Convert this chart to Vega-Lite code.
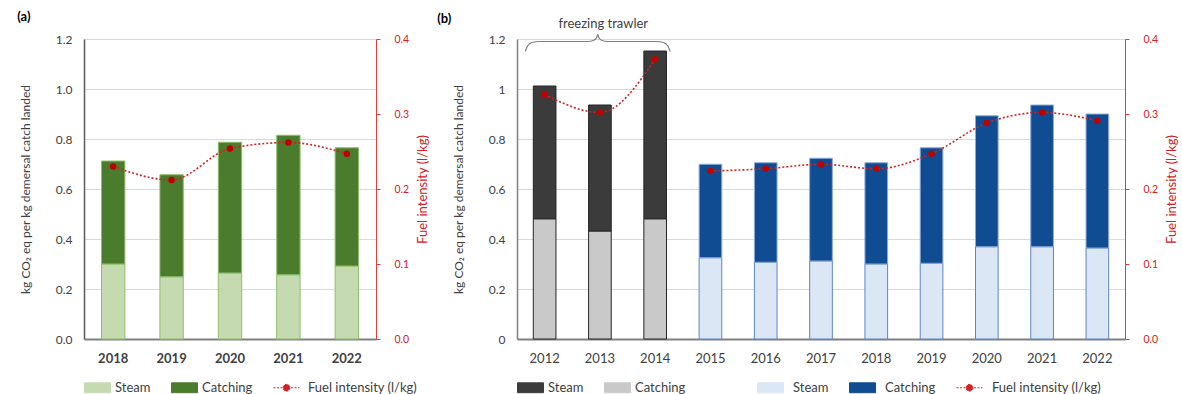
{
  "$schema": "https://vega.github.io/schema/vega-lite/v6.json",
  "background": "white",
  "padding": {"left": 17, "top": 11, "right": 0, "bottom": 0},
  "bounds": "flush",
  "spacing": 141,
  "resolve": {
    "scale": {"color": "independent", "stroke": "independent"},
    "legend": {"color": "independent"}
  },
  "config": {
    "font": "Lato",
    "view": {"stroke": null},
    "axis": {
      "labelFont": "Lato",
      "titleFont": "Lato",
      "labelColor": "#404040",
      "titleColor": "#404040",
      "titleFontWeight": "normal",
      "gridColor": "#d9d9d9",
      "ticks": false,
      "labelFontSize": 12,
      "titleFontSize": 12
    },
    "legend": {
      "labelFont": "Lato",
      "labelFontSize": 13,
      "labelColor": "#404040",
      "orient": "bottom",
      "direction": "horizontal",
      "symbolSize": 676,
      "labelOffset": 4,
      "columnPadding": 18,
      "offset": 9
    },
    "title": {"fontSize": 13, "fontWeight": "bold", "anchor": "start", "color": "#000000", "font": "Lato"}
  },
  "datasets": {
    "emissionsA": [
      {"year": "2018", "series": "Steam", "value": 0.300},
      {"year": "2018", "series": "Catching", "value": 0.412},
      {"year": "2019", "series": "Steam", "value": 0.249},
      {"year": "2019", "series": "Catching", "value": 0.408},
      {"year": "2020", "series": "Steam", "value": 0.264},
      {"year": "2020", "series": "Catching", "value": 0.523},
      {"year": "2021", "series": "Steam", "value": 0.257},
      {"year": "2021", "series": "Catching", "value": 0.558},
      {"year": "2022", "series": "Steam", "value": 0.292},
      {"year": "2022", "series": "Catching", "value": 0.473}
    ],
    "fuelA": [
      {"year": "2018", "fuel": 0.230},
      {"year": "2019", "fuel": 0.212},
      {"year": "2020", "fuel": 0.254},
      {"year": "2021", "fuel": 0.262},
      {"year": "2022", "fuel": 0.247}
    ],
    "emissionsB": [
      {"year": "2012", "series": "Catching (freezing trawler)", "value": 0.481},
      {"year": "2012", "series": "Steam (freezing trawler)", "value": 0.531},
      {"year": "2013", "series": "Catching (freezing trawler)", "value": 0.432},
      {"year": "2013", "series": "Steam (freezing trawler)", "value": 0.504},
      {"year": "2014", "series": "Catching (freezing trawler)", "value": 0.481},
      {"year": "2014", "series": "Steam (freezing trawler)", "value": 0.671},
      {"year": "2015", "series": "Steam", "value": 0.325},
      {"year": "2015", "series": "Catching", "value": 0.374},
      {"year": "2016", "series": "Steam", "value": 0.307},
      {"year": "2016", "series": "Catching", "value": 0.398},
      {"year": "2017", "series": "Steam", "value": 0.312},
      {"year": "2017", "series": "Catching", "value": 0.411},
      {"year": "2018", "series": "Steam", "value": 0.300},
      {"year": "2018", "series": "Catching", "value": 0.405},
      {"year": "2019", "series": "Steam", "value": 0.303},
      {"year": "2019", "series": "Catching", "value": 0.462},
      {"year": "2020", "series": "Steam", "value": 0.369},
      {"year": "2020", "series": "Catching", "value": 0.524},
      {"year": "2021", "series": "Steam", "value": 0.369},
      {"year": "2021", "series": "Catching", "value": 0.567},
      {"year": "2022", "series": "Steam", "value": 0.364},
      {"year": "2022", "series": "Catching", "value": 0.536}
    ],
    "fuelB": [
      {"year": "2012", "fleet": "freezer", "fuel": 0.326},
      {"year": "2013", "fleet": "freezer", "fuel": 0.302},
      {"year": "2014", "fleet": "freezer", "fuel": 0.373},
      {"year": "2015", "fleet": "fresh", "fuel": 0.224},
      {"year": "2016", "fleet": "fresh", "fuel": 0.227},
      {"year": "2017", "fleet": "fresh", "fuel": 0.233},
      {"year": "2018", "fleet": "fresh", "fuel": 0.227},
      {"year": "2019", "fleet": "fresh", "fuel": 0.247},
      {"year": "2020", "fleet": "fresh", "fuel": 0.288},
      {"year": "2021", "fleet": "fresh", "fuel": 0.302},
      {"year": "2022", "fleet": "fresh", "fuel": 0.291}
    ],
    "brace": [
      {"bx": 0.15, "by": 1.150},
      {"bx": 0.19, "by": 1.172},
      {"bx": 0.27, "by": 1.186},
      {"bx": 0.40, "by": 1.190},
      {"bx": 1.28, "by": 1.190},
      {"bx": 1.39, "by": 1.195},
      {"bx": 1.44, "by": 1.206},
      {"bx": 1.46, "by": 1.218},
      {"bx": 1.48, "by": 1.206},
      {"bx": 1.53, "by": 1.195},
      {"bx": 1.64, "by": 1.190},
      {"bx": 2.52, "by": 1.190},
      {"bx": 2.65, "by": 1.186},
      {"bx": 2.73, "by": 1.172},
      {"bx": 2.77, "by": 1.150}
    ]
  },
  "hconcat": [
    {
      "title": {"text": "(a)", "dx": -2, "offset": 9},
      "width": 292,
      "height": 300,
      "resolve": {"scale": {"y": "independent"}},
      "layer": [
        {
          "data": {"name": "emissionsA"},
          "transform": [{"calculate": "datum.series === 'Steam' ? 0 : 1", "as": "stackRank"}],
          "mark": {"type": "bar", "strokeWidth": 1},
          "encoding": {
            "x": {
              "field": "year", "type": "ordinal",
              "scale": {"paddingInner": 0.6, "paddingOuter": 0.3},
              "axis": {"title": null, "labelAngle": 0, "domainColor": "#808080", "domainWidth": 2, "labelFontSize": 13, "labelFontWeight": "bold", "labelPadding": 13}
            },
            "y": {
              "field": "value", "type": "quantitative", "stack": "zero",
              "scale": {"domain": [0, 1.2], "nice": false},
              "axis": {"title": "kg CO₂ eq per kg demersal catch landed", "values": [0, 0.2, 0.4, 0.6, 0.8, 1, 1.2], "format": ".1f", "domainColor": "#595959", "domainWidth": 1.5, "grid": true, "labelPadding": 12, "titlePadding": 23}
            },
            "color": {
              "field": "series", "type": "nominal",
              "scale": {"domain": ["Steam", "Catching", "Fuel intensity (l/kg)"], "range": ["#c5dab1", "#4b7b2c", "#d42222"]},
              "legend": {
                "title": null,
                "encode": {
                  "symbols": {
                    "update": {
                      "shape": {"signal": "indexof(datum.value, 'Fuel') === 0 ? 'M-1,0H1M0.26,0A0.26,0.26,0,1,1,-0.26,0A0.26,0.26,0,1,1,0.26,0Z' : 'M-1,-0.38H1V0.38H-1Z'"},
                      "fill": {"signal": "indexof(datum.value, 'Fuel') === 0 ? '#c00000' : datum.value === 'Steam' ? '#c5dab1' : '#4b7b2c'"},
                      "stroke": {"signal": "indexof(datum.value, 'Fuel') === 0 ? '#e3312f' : '#8dbf6a'"},
                      "strokeDash": {"signal": "indexof(datum.value, 'Fuel') === 0 ? [2, 1.5] : []"},
                      "strokeWidth": {"value": 1},
                      "opacity": {"value": 1}
                    }
                  },
                  "labels": {
                    "update": {"dx": {"signal": "indexof(datum.value, 'Fuel') === 0 ? 4 : 0"}}
                  }
                }
              }
            },
            "stroke": {
              "field": "series", "type": "nominal",
              "scale": {"domain": ["Steam", "Catching"], "range": ["#8dbf6a", "#8dbf6a"]},
              "legend": null
            },
            "order": {"field": "stackRank"}
          }
        },
        {
          "data": {"name": "fuelA"},
          "mark": {"type": "line", "interpolate": "monotone", "strokeDash": [2, 2], "strokeWidth": 1.6},
          "encoding": {
            "x": {"field": "year", "type": "ordinal"},
            "y": {
              "field": "fuel", "type": "quantitative",
              "scale": {"domain": [0, 0.4], "nice": false},
              "axis": {"orient": "right", "title": "Fuel intensity (l/kg)", "values": [0, 0.1, 0.2, 0.3, 0.4], "format": ".1f", "grid": false, "domainColor": "#e03c3c", "ticks": true, "tickColor": "#e03c3c", "tickSize": 4, "labelColor": "#d42020", "titleColor": "#d42020", "titleAngle": 270, "titleFontSize": 13, "labelFontSize": 10.5, "labelPadding": 14, "titlePadding": 21}
            },
            "color": {
              "datum": "Fuel intensity (l/kg)", "type": "nominal",
              "legend": {
                "title": null,
                "encode": {
                  "symbols": {
                    "update": {
                      "shape": {"signal": "indexof(datum.value, 'Fuel') === 0 ? 'M-1,0H1M0.26,0A0.26,0.26,0,1,1,-0.26,0A0.26,0.26,0,1,1,0.26,0Z' : 'M-1,-0.38H1V0.38H-1Z'"},
                      "fill": {"signal": "indexof(datum.value, 'Fuel') === 0 ? '#c00000' : datum.value === 'Steam' ? '#c5dab1' : '#4b7b2c'"},
                      "stroke": {"signal": "indexof(datum.value, 'Fuel') === 0 ? '#e3312f' : '#8dbf6a'"},
                      "strokeDash": {"signal": "indexof(datum.value, 'Fuel') === 0 ? [2, 1.5] : []"},
                      "strokeWidth": {"value": 1},
                      "opacity": {"value": 1}
                    }
                  },
                  "labels": {
                    "update": {"dx": {"signal": "indexof(datum.value, 'Fuel') === 0 ? 4 : 0"}}
                  }
                }
              }
            }
          }
        },
        {
          "data": {"name": "fuelA"},
          "mark": {"type": "point", "filled": true, "color": "#c00000", "size": 42, "opacity": 1},
          "encoding": {
            "x": {"field": "year", "type": "ordinal"},
            "y": {"field": "fuel", "type": "quantitative", "scale": {"domain": [0, 0.4], "nice": false}, "axis": null}
          }
        }
      ]
    },
    {
      "title": {"text": "(b)", "dx": -15, "offset": -8},
      "width": 608,
      "height": 300,
      "resolve": {"scale": {"x": "independent", "y": "independent"}},
      "layer": [
        {
          "data": {"name": "emissionsB"},
          "transform": [{"calculate": "datum.series === 'Steam' || datum.series === 'Catching (freezing trawler)' ? 0 : 1", "as": "stackRank"}],
          "mark": {"type": "bar", "strokeWidth": 1},
          "encoding": {
            "x": {
              "field": "year", "type": "ordinal",
              "scale": {"paddingInner": 0.59, "paddingOuter": 0.295},
              "axis": {"title": null, "labelAngle": 0, "domainColor": "#808080", "domainWidth": 2, "labelFontSize": 13, "labelPadding": 13}
            },
            "y": {
              "field": "value", "type": "quantitative", "stack": "zero",
              "scale": {"domain": [0, 1.2], "nice": false},
              "axis": {"title": "kg CO₂ eq per kg demersal catch landed", "values": [0, 0.2, 0.4, 0.6, 0.8, 1, 1.2], "format": "~g", "domainColor": "#808080", "domainWidth": 1.5, "grid": true, "labelPadding": 12, "titlePadding": 23}
            },
            "color": {
              "field": "series", "type": "nominal",
              "scale": {
                "domain": ["Steam (freezing trawler)", "Catching (freezing trawler)", " ", "Steam", "Catching", "Fuel intensity (l/kg)"],
                "range": ["#3b3b3b", "#c9c9c9", "transparent", "#dbe7f5", "#0f4c91", "#d42222"]
              },
              "legend": {
                "title": null,
                "labelExpr": "datum.value === ' ' ? '\u00a0\u00a0' : replace(datum.value, ' (freezing trawler)', '')",
                "encode": {
                  "symbols": {
                    "update": {
                      "shape": {"signal": "indexof(datum.value, 'Fuel') === 0 ? 'M-1,0H1M0.26,0A0.26,0.26,0,1,1,-0.26,0A0.26,0.26,0,1,1,0.26,0Z' : 'M-1,-0.38H1V0.38H-1Z'"},
                      "fill": {"signal": "indexof(datum.value, 'Fuel') === 0 ? '#c00000' : datum.value === 'Steam (freezing trawler)' ? '#3b3b3b' : datum.value === 'Catching (freezing trawler)' ? '#c9c9c9' : datum.value === ' ' ? 'transparent' : datum.value === 'Steam' ? '#dbe7f5' : '#0f4c91'"},
                      "stroke": {"signal": "indexof(datum.value, 'Fuel') === 0 ? '#e3312f' : (datum.value === 'Steam (freezing trawler)' || datum.value === 'Catching (freezing trawler)') ? '#262626' : datum.value === ' ' ? 'transparent' : '#5b86c7'"},
                      "strokeDash": {"signal": "indexof(datum.value, 'Fuel') === 0 ? [2, 1.5] : []"},
                      "strokeWidth": {"value": 1},
                      "opacity": {"value": 1}
                    }
                  },
                  "labels": {
                    "update": {"dx": {"signal": "(datum.value === 'Steam' || datum.value === 'Catching' || indexof(datum.value, 'Fuel') === 0) ? 5 : 0"}}
                  }
                }
              }
            },
            "stroke": {
              "field": "series", "type": "nominal",
              "scale": {"domain": ["Steam (freezing trawler)", "Catching (freezing trawler)", "Steam", "Catching"], "range": ["#262626", "#262626", "#5b86c7", "#8eaadb"]},
              "legend": null
            },
            "order": {"field": "stackRank"}
          }
        },
        {
          "data": {"name": "brace"},
          "mark": {"type": "line", "interpolate": "monotone", "stroke": "#7f7f7f", "strokeWidth": 1.2},
          "encoding": {
            "x": {"field": "bx", "type": "quantitative", "scale": {"domain": [0, 11], "nice": false}, "axis": null},
            "y": {"field": "by", "type": "quantitative", "scale": {"domain": [0, 1.2], "nice": false}, "axis": null}
          }
        },
        {
          "data": {"values": [{}]},
          "mark": {"type": "text", "fontSize": 13, "color": "#404040", "font": "Lato", "baseline": "middle", "align": "center"},
          "encoding": {
            "x": {"datum": 1.56, "type": "quantitative", "scale": {"domain": [0, 11], "nice": false}, "axis": null},
            "y": {"datum": 1.26, "type": "quantitative", "scale": {"domain": [0, 1.2], "nice": false}, "axis": null},
            "text": {"value": "freezing trawler"}
          }
        },
        {
          "data": {"name": "fuelB"},
          "mark": {"type": "line", "interpolate": "monotone", "strokeDash": [2, 2], "strokeWidth": 1.6},
          "encoding": {
            "x": {"field": "year", "type": "ordinal", "scale": {"paddingInner": 0.59, "paddingOuter": 0.295}, "axis": null},
            "y": {
              "field": "fuel", "type": "quantitative",
              "scale": {"domain": [0, 0.4], "nice": false},
              "axis": {"orient": "right", "title": "Fuel intensity (l/kg)", "values": [0, 0.1, 0.2, 0.3, 0.4], "format": ".1f", "grid": false, "domainColor": "#e03c3c", "ticks": true, "tickColor": "#e03c3c", "tickSize": 4, "labelColor": "#d42020", "titleColor": "#d42020", "titleAngle": 270, "titleFontSize": 13, "labelFontSize": 10.5, "labelPadding": 14, "titlePadding": 21}
            },
            "detail": {"field": "fleet", "type": "nominal"},
            "color": {"datum": "Fuel intensity (l/kg)", "type": "nominal"}
          }
        },
        {
          "data": {"name": "fuelB"},
          "mark": {"type": "point", "filled": true, "color": "#c00000", "size": 42, "opacity": 1},
          "encoding": {
            "x": {"field": "year", "type": "ordinal", "scale": {"paddingInner": 0.59, "paddingOuter": 0.295}, "axis": null},
            "y": {"field": "fuel", "type": "quantitative", "scale": {"domain": [0, 0.4], "nice": false}, "axis": null}
          }
        }
      ]
    }
  ]
}
